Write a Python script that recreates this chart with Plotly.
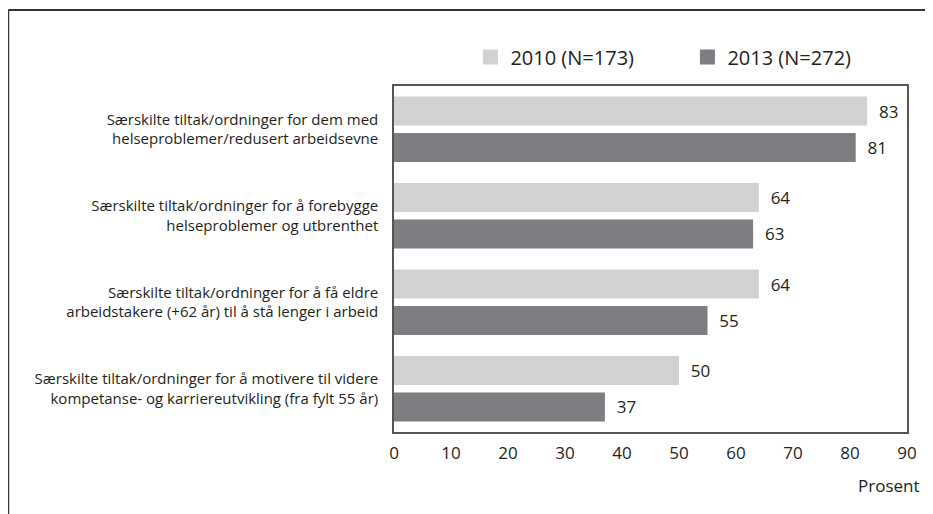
import plotly.graph_objects as go

categories = [
    "Særskilte tiltak/ordninger for dem med<br>helseproblemer/redusert arbeidsevne",
    "Særskilte tiltak/ordninger for å forebygge<br>helseproblemer og utbrenthet",
    "Særskilte tiltak/ordninger for å få eldre<br>arbeidstakere (+62 år) til å stå lenger i arbeid",
    "Særskilte tiltak/ordninger for å motivere til videre<br>kompetanse- og karriereutvikling (fra fylt 55 år)",
]
values_2010 = [83, 64, 64, 50]
values_2013 = [81, 63, 55, 37]
series_names = ["2010 (N=173)", "2013 (N=272)"]
x_ticks = [0, 10, 20, 30, 40, 50, 60, 70, 80, 90]
colors = ["#d0d1d3", "#7d7e82"]

FONT = "Open Sans"
TXT = "#231f20"

fig = go.Figure()
for name, vals, col in zip(series_names, [values_2010, values_2013], colors):
    fig.add_trace(go.Bar(
        y=categories, x=vals, name=name, orientation="h",
        marker=dict(color=col, line=dict(width=0)),
        text=vals, texttemplate="\u00a0\u00a0%{x}", textposition="outside",
        textfont=dict(family=FONT, size=17, color=TXT),
        cliponaxis=False, showlegend=False,
    ))
# legend entries with larger square symbols
for name, col in zip(series_names, colors):
    fig.add_trace(go.Scatter(
        x=[None], y=[None], mode="markers", name=name,
        marker=dict(symbol="square", size=15, color=col, line=dict(width=0)),
        showlegend=True,
    ))

fig.update_layout(
    width=933, height=514,
    margin=dict(l=386, r=34, t=78, b=90, autoexpand=False),
    paper_bgcolor="white", plot_bgcolor="white",
    barmode="group", bargap=0.16, bargroupgap=0.2,
    font=dict(family=FONT, color=TXT),
    legend=dict(orientation="h", x=0.149, xanchor="left", y=1.084, yanchor="middle",
                font=dict(family=FONT, size=20, color=TXT),
                entrywidth=172, entrywidthmode="pixels", traceorder="normal",
                itemsizing="trace"),
)
fig.update_xaxes(range=[0, 90], tickvals=x_ticks, showgrid=False, zeroline=False,
                 showline=True, linecolor="#555", linewidth=1.5, mirror=True,
                 ticks="", tickfont=dict(family=FONT, size=17, color=TXT), ticklabelstandoff=5)
fig.update_yaxes(categoryorder="array", categoryarray=categories, autorange="reversed",
                 showgrid=False, showline=True, linecolor="#555", linewidth=1.5, mirror=True,
                 ticks="", tickfont=dict(family=FONT, size=15, color=TXT), ticklabelstandoff=11)

fig.add_annotation(text="Prosent", xref="paper", yref="paper", x=1.03, y=-0.156,
                   xanchor="right", yanchor="middle", showarrow=False,
                   font=dict(family=FONT, size=17, color=TXT))

# outer frame (left and top edges visible)
fig.add_shape(type="line", xref="paper", yref="paper", x0=-0.752, x1=1.2, y0=1.22, y1=1.22,
              line=dict(color="#333", width=2))
fig.add_shape(type="line", xref="paper", yref="paper", x0=-0.752, x1=-0.752, y0=1.22, y1=-0.4,
              line=dict(color="#333", width=2))

fig.write_html("out.html")
